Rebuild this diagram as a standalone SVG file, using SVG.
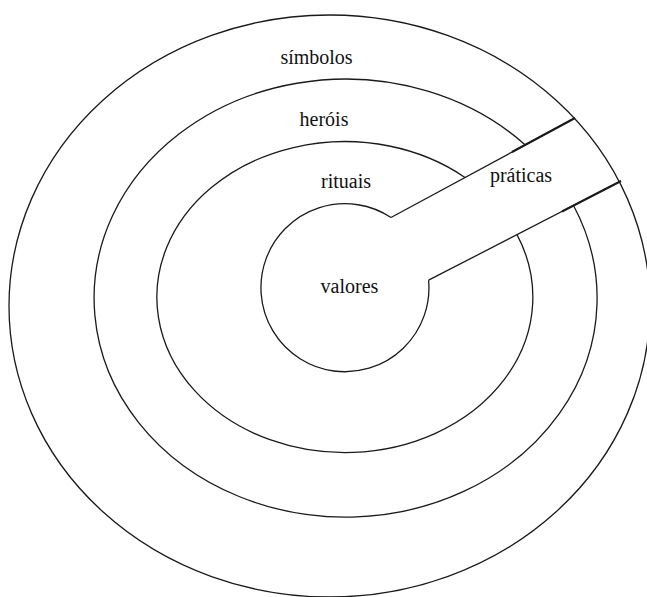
<svg xmlns="http://www.w3.org/2000/svg" width="647" height="597" viewBox="0 0 647 597">
<style>
.ring{fill:none;stroke:#1a1a1a;stroke-width:1.3}
.conn{fill:none;stroke:#1a1a1a;stroke-width:1.3}
.thick{fill:none;stroke:#1a1a1a;stroke-width:2}
.lbl{font-family:"Liberation Serif","Times New Roman",serif;font-size:20px;fill:#111;text-anchor:middle}
</style>
<rect width="647" height="597" fill="#fff"/>
<g id="simbolos">
<ellipse class="ring" cx="329.5" cy="306" rx="320.5" ry="291"/>
<text class="lbl" x="316.5" y="64">símbolos</text>
</g>
<g id="herois">
<path class="ring" d="M573.5,205.5 A251.5,219 0 1 1 525.3,144.9"/>
<text class="lbl" x="324" y="126">heróis</text>
</g>
<g id="rituais">
<path class="ring" d="M517,234.6 A188,155.5 0 1 1 465,177.5"/>
<text class="lbl" x="346" y="188">rituais</text>
</g>
<g id="valores">
<path class="ring" d="M428.6,280.2 A84,84 0 1 1 391,217.5"/>
<text class="lbl" x="349.5" y="293">valores</text>
</g>
<g id="praticas">
<text class="lbl" x="521" y="182">práticas</text>
</g>
<g id="connectors">
<line class="conn" x1="391" y1="217.5" x2="575" y2="118"/>
<line class="conn" x1="428.6" y1="280.2" x2="621" y2="181"/>
<line class="thick" x1="512" y1="152" x2="575" y2="118"/>
<line class="thick" x1="562" y1="211.5" x2="621" y2="181"/>
</g>
</svg>
